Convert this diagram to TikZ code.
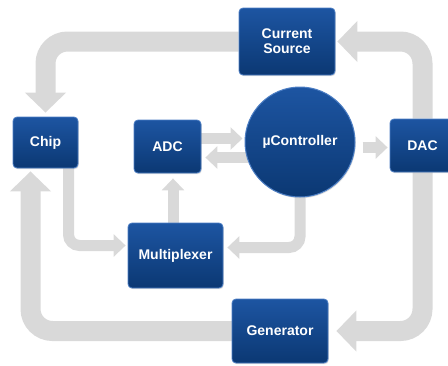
\documentclass[tikz,border=0pt]{standalone}
\usepackage{fontspec}
\setmainfont{Liberation Sans}
\usetikzlibrary{arrows.meta,shadows,calc}

\definecolor{band}{HTML}{D9D9D9}
\definecolor{boxtop}{HTML}{1D55A2}
\definecolor{boxbot}{HTML}{0B3873}
\definecolor{boxedge}{HTML}{4C7EC4}

\pgfdeclarelayer{bg}
\pgfsetlayers{bg,main}

\tikzset{
  block/.style={rectangle, rounded corners=4pt, draw=boxedge, line width=0.8pt,
    top color=boxtop, bottom color=boxbot, text=white,
    font=\bfseries\fontsize{14}{15}\selectfont, align=center, inner sep=0pt,
    drop shadow={opacity=0.25, shadow xshift=0.8pt, shadow yshift=-1.2pt}},
  hub/.style={circle, draw=boxedge, line width=1pt,
    top color=boxtop, bottom color=boxbot, text=white,
    font=\bfseries\fontsize{14}{15}\selectfont, inner sep=0pt,
    minimum size=110pt,
    drop shadow={opacity=0.25, shadow xshift=0.8pt, shadow yshift=-1.2pt}},
  bigflow/.style={draw=band, line width=20pt, rounded corners=22pt,
    -{Triangle[length=20pt,width=40pt]}},
  flow/.style={draw=band, line width=11pt, rounded corners=11pt,
    -{Triangle[length=12pt,width=22pt]}},
}

\begin{document}
\begin{tikzpicture}[x=1pt,y=-1pt]
  \useasboundingbox (0,0) rectangle (448,365);
  \clip (0,0) rectangle (448,365);

  % blocks
  \node[block, minimum width=96pt, minimum height=67pt] (cs)   at (287,41.5)  {Current\\Source};
  \node[block, minimum width=65pt, minimum height=51pt] (chip) at (45.5,142.5) {Chip};
  \node[block, minimum width=67pt, minimum height=53pt] (adc)  at (167.5,146.5) {ADC};
  \node[hub] (ctrl) at (300,142) {µController};
  \node[block, minimum width=65pt, minimum height=53pt] (dac)  at (422.5,145.5) {DAC};
  \node[block, minimum width=95pt, minimum height=65pt] (mux)  at (175.5,255.5) {Multiplexer};
  \node[block, minimum width=96pt, minimum height=64pt] (gen)  at (280,331)   {Generator};

  \begin{pgfonlayer}{bg}
    % outer loop
    \draw[bigflow] (cs.west) -| ([yshift=4pt]chip.north);
    \draw[bigflow] (dac.north) |- ([xshift=2pt]cs.east);
    \draw[bigflow] (dac.south) |- ([xshift=8pt]gen.east);
    \draw[bigflow] ([xshift=4pt]gen.west) -| ([xshift=-15pt,yshift=-3pt]chip.south);

    % inner connections
    \draw[flow] ([xshift=23pt]chip.south) |- ([xshift=-2pt,yshift=10pt]mux.west);
    \draw[flow] (ctrl.south) |- ([xshift=4pt,yshift=8pt]mux.east);
    \draw[flow] ([xshift=-2.5pt]mux.north) -- ([xshift=-2.5pt,yshift=-5pt]mux.north |- adc.south);
    \draw[flow] ([yshift=8pt]adc.east) -- ([yshift=8pt,xshift=-2pt]adc.east -| ctrl.west);
    \draw[flow] ([yshift=-11pt,xshift=3pt]adc.east -| ctrl.west) -- ([yshift=-11pt,xshift=4pt]adc.east);
    \draw[flow] ([yshift=-2pt,xshift=7pt]dac.west -| ctrl.east) -- ([xshift=-2pt,yshift=-2pt]dac.west);
  \end{pgfonlayer}
\end{tikzpicture}
\end{document}
